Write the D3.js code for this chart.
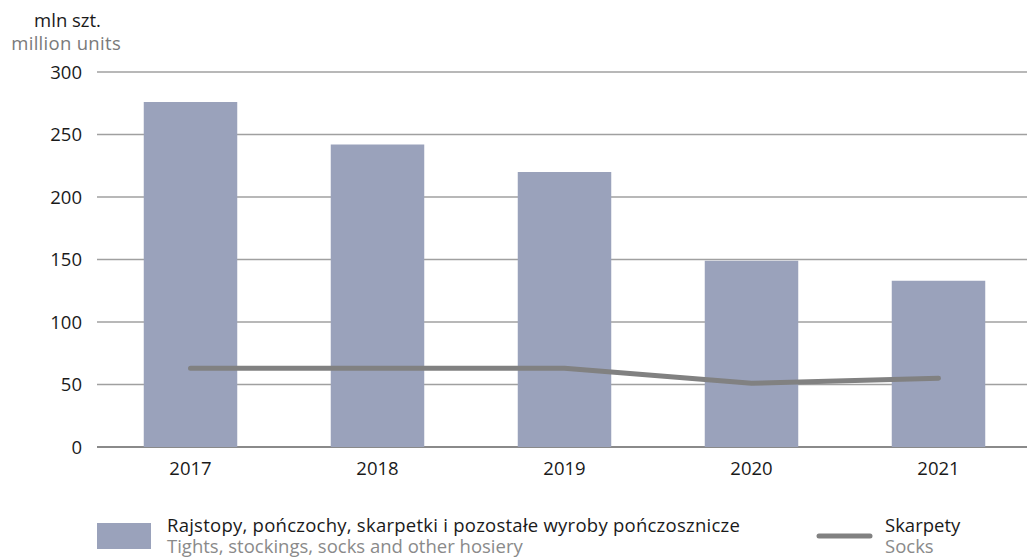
<!DOCTYPE html>
<html><head><meta charset="utf-8">
<script src="https://cdn.jsdelivr.net/npm/d3@7"></script>
<style>body{margin:0;background:#fff}svg{display:block;font-family:"Open Sans",sans-serif}</style>
</head><body>
<svg id="c" width="1027" height="558"></svg>
<script>
const years = ["2017","2018","2019","2020","2021"];
const hosiery = [276, 242, 220, 149, 133];
const socks = [63, 63, 63, 51, 55];
const yTicks = [0, 50, 100, 150, 200, 250, 300];

const FS = 18.5;
const svg = d3.select("#c");
const x = d3.scaleBand().domain(years).range([97, 1032]).paddingInner(0.5).paddingOuter(0.25);
const y = d3.scaleLinear().domain([0, 300]).range([447, 72]);

// gridlines
svg.append("g").selectAll("line").data(yTicks).join("line")
  .attr("x1", 97).attr("x2", 1027)
  .attr("y1", d => y(d)).attr("y2", d => y(d))
  .attr("stroke", d => d === 0 ? "#8a8a8a" : "#a0a0a0")
  .attr("stroke-width", d => d === 0 ? 2 : 1.3);

// y tick labels
svg.append("g").selectAll("text").data(yTicks).join("text")
  .attr("x", 82).attr("y", d => y(d)).attr("dy", "0.36em")
  .attr("text-anchor", "end").attr("font-size", FS).attr("fill", "#1a1a1a")
  .text(d => d);

// bars
svg.append("g").selectAll("rect").data(years).join("rect")
  .attr("x", d => x(d)).attr("width", x.bandwidth())
  .attr("y", (d, i) => y(hosiery[i])).attr("height", (d, i) => y(0) - y(hosiery[i]))
  .attr("fill", "#9aa2bb");

// line
const line = d3.line().x((d, i) => x(years[i]) + x.bandwidth() / 2).y(d => y(d));
svg.append("path").datum(socks).attr("d", line)
  .attr("fill", "none").attr("stroke", "#818181").attr("stroke-width", 5)
  .attr("stroke-linecap", "round").attr("stroke-linejoin", "round");

// x labels
svg.append("g").selectAll("text").data(years).join("text")
  .attr("x", d => x(d) + x.bandwidth() / 2).attr("y", 475)
  .attr("text-anchor", "middle").attr("font-size", FS).attr("fill", "#1a1a1a")
  .text(d => d);

// axis title
svg.append("text").attr("x", 101).attr("y", 27).attr("text-anchor", "end")
  .attr("font-size", FS).attr("fill", "#1a1a1a").text("mln szt.");
svg.append("text").attr("x", 121).attr("y", 50).attr("text-anchor", "end")
  .attr("font-size", FS).attr("fill", "#7a7a7a").attr("letter-spacing", 0.3).text("million units");

// legend
svg.append("rect").attr("x", 97).attr("y", 523).attr("width", 54).attr("height", 26).attr("fill", "#9aa2bb");
svg.append("text").attr("x", 167).attr("y", 532).attr("font-size", FS).attr("fill", "#1a1a1a")
  .attr("letter-spacing", 0.25)
  .text("Rajstopy, pończochy, skarpetki i pozostałe wyroby pończosznicze");
svg.append("text").attr("x", 167).attr("y", 553).attr("font-size", FS).attr("fill", "#8a8a8a")
  .text("Tights, stockings, socks and other hosiery");
svg.append("line").attr("x1", 819).attr("x2", 870).attr("y1", 536).attr("y2", 536)
  .attr("stroke", "#818181").attr("stroke-width", 5).attr("stroke-linecap", "round");
svg.append("text").attr("x", 885).attr("y", 532).attr("font-size", FS).attr("fill", "#1a1a1a").text("Skarpety");
svg.append("text").attr("x", 885).attr("y", 553).attr("font-size", FS).attr("fill", "#8a8a8a").text("Socks");
</script>
</body></html>
